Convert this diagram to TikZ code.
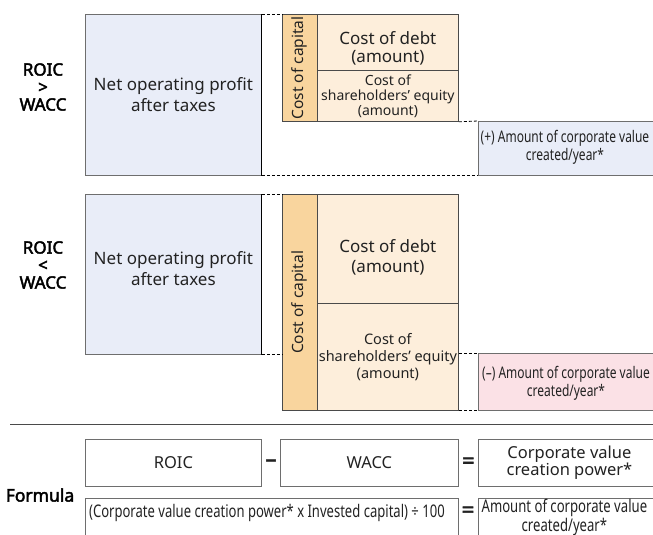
\documentclass[tikz,border=0pt]{standalone}
\usepackage{fontspec}
\setmainfont{Noto Sans}
\newfontfamily\condf[FakeStretch=0.75]{Noto Sans}
\newfontfamily\boldf[FakeBold=2.5]{Noto Sans}
\usetikzlibrary{calc}
\definecolor{nopfill}{HTML}{E9EDF8}
\definecolor{ccfill}{HTML}{F9D59E}
\definecolor{costfill}{HTML}{FDEEDB}
\definecolor{pinkfill}{HTML}{FBE1E6}
\definecolor{bordgray}{HTML}{6E6E6E}
\definecolor{darkbord}{HTML}{4A4A4A}
\definecolor{txt}{HTML}{222222}
\begin{document}
\begin{tikzpicture}[x=1pt,y=-1pt,
  box/.style={draw=bordgray, line width=0.8pt, inner sep=0pt, align=center, anchor=north west, text=txt},
  cbox/.style={box, draw=darkbord},
  dashline/.style={dash pattern=on 3pt off 2pt, line width=0.8pt},
  big/.style={font=\fontsize{17}{21}\selectfont},
  lab/.style={font=\boldf\fontsize{17}{17.5}\selectfont, align=center, text=black},
  condtxt/.style={font=\condf\fontsize{16}{18}\selectfont, align=center, text=txt, inner sep=0pt},
  opsign/.style={font=\boldf\fontsize{22}{22}\selectfont, inner sep=0pt, text=txt}
]
\clip (0,0) rectangle (653,535);

% ---------- ROIC > WACC ----------
\node[lab] (lab1) at (43,87) {ROIC\\>\\WACC};
\node[box, fill=nopfill, minimum width=176pt, minimum height=161pt, big] (nop1) at (85,14) {Net operating profit\\after taxes};
\draw[line width=0.8pt, black] (nop1.north east) -- (nop1.south east);
\node[cbox, fill=ccfill, minimum width=35pt, minimum height=107pt] (cc1) at (282,14) {};
\node[rotate=90, font=\fontsize{15.5}{17}\selectfont, text=txt] (cct1) at (cc1.center) {Cost of capital};
\node[cbox, fill=costfill, minimum width=141pt, minimum height=56pt, font=\fontsize{17}{18}\selectfont] (debt1) at (317,14) {\rule{0pt}{24pt}Cost of debt\\(amount)};
\node[cbox, fill=costfill, minimum width=141pt, minimum height=51pt, font=\fontsize{14}{15}\selectfont] (eq1) at (317,70) {Cost of\\shareholders’ equity\\(amount)};
\node[box, fill=nopfill, minimum width=182pt, minimum height=54pt] (plus) at (478,121) {};
\node[condtxt] (plust) at ($(plus.west)+(87,-1)$) {(+) Amount of corporate value\\created/year*};
\draw[dashline] (nop1.north east) -- (cc1.north west);
\draw[dashline] (eq1.south east) -- (plus.north west);
\draw[dashline] (nop1.south east) -- (plus.south west);

% ---------- ROIC < WACC ----------
\node[lab] (lab2) at (43,265) {ROIC\\<\\WACC};
\node[box, fill=nopfill, minimum width=176pt, minimum height=160pt, big] (nop2) at (85,194) {Net operating profit\\after taxes\rule[-12pt]{0pt}{12pt}};
\draw[line width=0.8pt, black] (nop2.north east) -- (nop2.south east);
\node[cbox, fill=ccfill, minimum width=35pt, minimum height=216pt] (cc2) at (282,194) {};
\node[rotate=90, font=\fontsize{15.5}{17}\selectfont, text=txt] (cct2) at (cc2.center) {Cost of capital};
\node[cbox, fill=costfill, minimum width=141pt, minimum height=109pt, font=\fontsize{17}{20}\selectfont] (debt2) at (317,194) {\rule{0pt}{30pt}Cost of debt\\(amount)};
\node[cbox, fill=costfill, minimum width=141pt, minimum height=107pt, font=\fontsize{14.5}{17}\selectfont] (eq2) at (317,303) {Cost of\\shareholders’ equity\\(amount)};
\node[box, fill=pinkfill, minimum width=182pt, minimum height=57pt] (minus) at (478,353) {};
\node[condtxt] (minust) at ($(minus.west)+(88,1)$) {(–) Amount of corporate value\\created/year*};
\draw[dashline] (nop2.north east) -- (cc2.north west);
\draw[dashline] (nop2.south east) -- (nop2.south east -| cc2.west);
\draw[dashline] (minus.north west -| eq2.east) -- (minus.north west);
\draw[dashline] (eq2.south east) -- (minus.south west);

% ---------- separator ----------
\coordinate (sepl) at (10,424);
\coordinate (sepr) at (653,424);
\draw[line width=1pt, darkbord] (sepl) -- (sepr);

% ---------- Formula ----------
\node[lab, font=\boldf\fontsize{17.5}{18}\selectfont] (flab) at (40,495) {Formula};
\node[box, minimum width=176pt, minimum height=47pt, font=\fontsize{16.5}{18}\selectfont] (roic) at (85,439) {ROIC};
\node[box, minimum width=178pt, minimum height=47pt, font=\fontsize{16.5}{18}\selectfont] (wacc) at (280,439) {WACC};
\node[box, minimum width=182pt, minimum height=47pt, font=\fontsize{16.5}{16}\selectfont] (cvcp) at (478,439) {Corporate value\\creation power*};
\node[opsign] (op1) at ($(roic.east)!0.5!(wacc.west)$) {–};
\node[opsign] (op2) at ($(wacc.east)!0.5!(cvcp.west)$) {=};
\node[box, minimum width=373pt, minimum height=50pt] (calc) at (85,498) {};
\node[condtxt, font=\condf\fontsize{17.4}{18}\selectfont] (calct) at ($(calc.north)+(-5,15)$) {(Corporate value creation power* x Invested capital) ÷ 100};
\node[box, minimum width=182pt, minimum height=50pt] (amt) at (478,498) {};
\node[condtxt, anchor=north, font=\condf\fontsize{17.5}{15.5}\selectfont] (amtt) at ($(amt.north)+(-5,1)$) {Amount of corporate value\\created/year*};
\node[opsign] (op3) at (468,512) {=};
\end{tikzpicture}
\end{document}
